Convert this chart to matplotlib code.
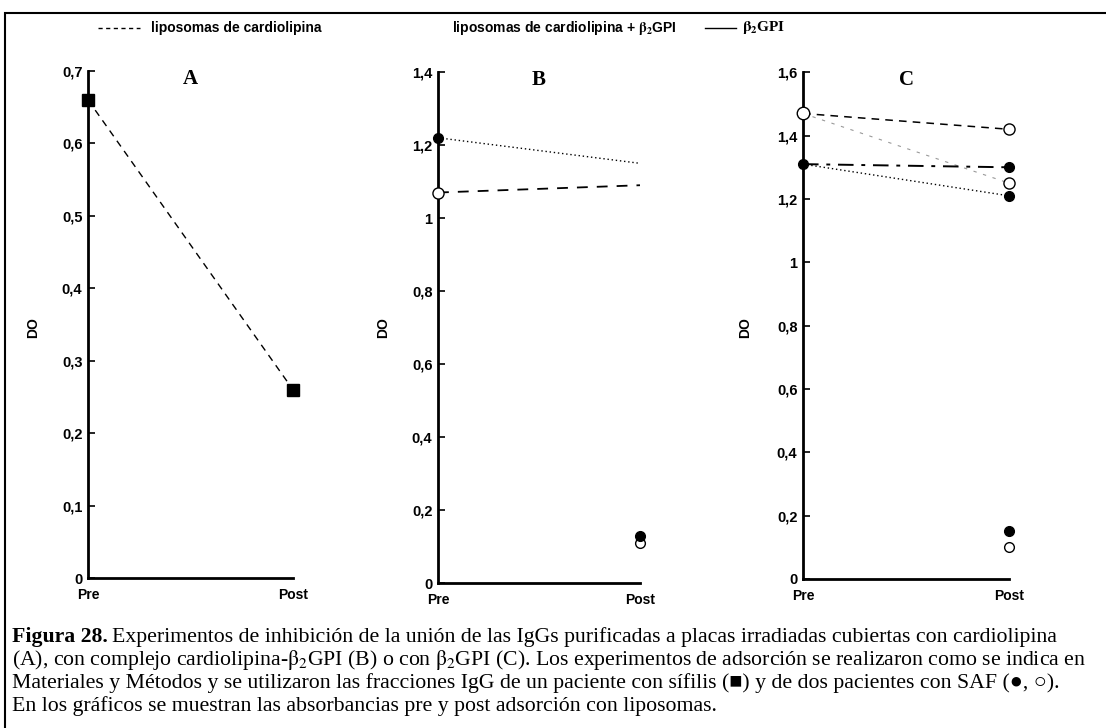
import matplotlib
matplotlib.use("Agg")
import matplotlib.pyplot as plt
from matplotlib.lines import Line2D
from matplotlib.patches import Rectangle

plt.rcParams['font.family'] = ['Liberation Sans', 'DejaVu Sans']
plt.rcParams['mathtext.fontset'] = 'stix'

# categorias del eje x
fases = ["Pre", "Post"]

# Panel A: paciente con sifilis (cuadrado), liposomas de cardiolipina
a_sifilis = [0.66, 0.26]

# Panel B
b_lleno_punteado = [1.22, 1.15]
b_abierto_rayado = [1.07, 1.09]
b_post_lleno = 0.13
b_post_abierto = 0.11

# Panel C
c_abierto_rayado = [1.47, 1.42]
c_abierto_punteado = [1.47, 1.25]
c_lleno_rayado = [1.31, 1.30]
c_lleno_punteado = [1.31, 1.21]
c_post_lleno = 0.15
c_post_abierto = 0.10

a_ticks = [0, 0.1, 0.2, 0.3, 0.4, 0.5, 0.6, 0.7]
a_labels = ["0", "0,1", "0,2", "0,3", "0,4", "0,5", "0,6", "0,7"]
b_ticks = [0, 0.2, 0.4, 0.6, 0.8, 1.0, 1.2, 1.4]
b_labels = ["0", "0,2", "0,4", "0,6", "0,8", "1", "1,2", "1,4"]
c_ticks = [0, 0.2, 0.4, 0.6, 0.8, 1.0, 1.2, 1.4, 1.6]
c_labels = ["0", "0,2", "0,4", "0,6", "0,8", "1", "1,2", "1,4", "1,6"]

fig = plt.figure(figsize=(11.06, 7.28), dpi=100)

# marco exterior
fig.patches.append(Rectangle((5 / 1106, -0.05), 1.2, 1 - 13 / 728 + 0.05,
                             transform=fig.transFigure, fill=False,
                             edgecolor='black', linewidth=1.5))


def preparar_eje(rect, ticks, labels, titulo, ylim, do_x):
    ax = fig.add_axes(rect)
    ax.set_xlim(0, 1)
    ax.set_ylim(*ylim)
    for lado in ['top', 'right']:
        ax.spines[lado].set_visible(False)
    ax.spines['left'].set_linewidth(2)
    ax.spines['bottom'].set_linewidth(2)
    ax.set_yticks(ticks)
    ax.set_yticklabels(labels, fontsize=10.5, fontweight='bold')
    ax.tick_params(axis='y', direction='in', length=5, width=1.2, pad=4)
    ax.set_xticks([0, 1])
    ax.set_xticklabels(fases, fontsize=10, fontweight='bold')
    ax.tick_params(axis='x', length=0, pad=7)
    ax.text(0.5, 0.985, titulo, transform=ax.transAxes, ha='center', va='center',
            fontsize=15, fontweight='bold', family='Liberation Serif')
    fig.text(do_x, 0.55, "DO", rotation=90, ha='center', va='center',
             fontsize=10, fontweight='bold')
    return ax


x = [0, 1]

# A
ax = preparar_eje([88 / 1106, 0.206, 205 / 1106, 0.6965], a_ticks, a_labels, "A",
                  (0, 0.7), 33 / 1106)
ax.plot(x, a_sifilis, color='black', linestyle=(0, (5, 4)), linewidth=1,
        marker='s', markersize=8, clip_on=False, zorder=5)

# B
ax = preparar_eje([438 / 1106, 0.199, 202 / 1106, 0.702], b_ticks, b_labels, "B",
                  (0, 1.4), 383 / 1106)
ax.plot(x, b_lleno_punteado, color='black', linestyle=(0, (1, 2)), linewidth=1)
ax.plot(x, b_abierto_rayado, color='black', linestyle=(0, (6, 5)), linewidth=1.3)
ax.plot([0], [b_lleno_punteado[0]], 'o', color='black', markersize=7, clip_on=False, zorder=5)
ax.plot([0], [b_abierto_rayado[0]], 'o', mfc='white', mec='black', markersize=8,
        clip_on=False, zorder=5)
ax.plot([1], [b_post_lleno], 'o', color='black', markersize=7, clip_on=False, zorder=5)
ax.plot([1], [b_post_abierto], 'o', mfc='white', mec='black', markersize=7,
        clip_on=False, zorder=4)

# C
ax = preparar_eje([803 / 1106, 0.2047, 206 / 1106, 0.696], c_ticks, c_labels, "C",
                  (0, 1.6), 745 / 1106)
ax.plot(x, c_abierto_rayado, color='black', linestyle=(0, (5, 4)), linewidth=1.1)
ax.plot(x, c_abierto_punteado, color='#999999', linestyle=(0, (3, 6)), linewidth=0.8)
ax.plot(x, c_lleno_rayado, color='black', linestyle=(0, (8, 4, 2, 4)), linewidth=1.4)
ax.plot(x, c_lleno_punteado, color='black', linestyle=(0, (1, 2)), linewidth=1)
ax.plot([0], [c_abierto_rayado[0]], 'o', mfc='white', mec='black', markersize=9,
        clip_on=False, zorder=5)
ax.plot([0], [c_lleno_rayado[0]], 'o', color='black', markersize=7, clip_on=False, zorder=5)
ax.plot([1, 1], [c_abierto_rayado[1], c_abierto_punteado[1]], 'o', mfc='white',
        mec='black', markersize=8, clip_on=False, zorder=5, linestyle='none')
ax.plot([1, 1], [c_lleno_rayado[1], c_lleno_punteado[1]], 'o', color='black',
        markersize=7, clip_on=False, zorder=5, linestyle='none')
ax.plot([1], [c_post_lleno], 'o', color='black', markersize=7, clip_on=False, zorder=5)
ax.plot([1], [c_post_abierto], 'o', mfc='white', mec='black', markersize=7,
        clip_on=False, zorder=5)

# leyenda superior
ley_y = 1 - 28 / 728
fig.add_artist(Line2D([98 / 1106, 140 / 1106], [ley_y, ley_y], color='black',
                      linestyle=(0, (3, 2.5)), linewidth=1))
fig.text(151 / 1106, ley_y, "liposomas de cardiolipina", ha='left', va='center',
         fontsize=10, fontweight='bold')
fig.text(452 / 1106, ley_y, r"liposomas de cardiolipina + $\mathbf{\beta_2}$GPI",
         ha='left', va='center', fontsize=10, fontweight='bold')
fig.add_artist(Line2D([705 / 1106, 736 / 1106], [ley_y, ley_y], color='black', linewidth=1))
fig.text(742 / 1106, ley_y, r"$\mathbf{\beta_2}$GPI", ha='left', va='center',
         fontsize=11, fontweight='bold', family='Liberation Serif')

# pie de figura
lineas = [
    "Experimentos de inhibición de la unión de las IgGs purificadas a placas irradiadas cubiertas con cardiolipina",
    r"(A), con complejo cardiolipina-$\mathrm{\beta_2}$GPI (B) o con $\mathrm{\beta_2}$GPI (C). Los experimentos de adsorción se realizaron como se indica en",
    "Materiales y Métodos y se utilizaron las fracciones IgG de un paciente con sífilis (\u25A0) y de dos pacientes con SAF (\u25CF, \u25CB).",
    "En los gráficos se muestran las absorbancias pre y post adsorción con liposomas.",
]
ys = [637, 660, 683, 706]
serif = ['Liberation Serif', 'DejaVu Serif']
fs = 15.7
fig.text(12 / 1106, 1 - ys[0] / 728, "Figura 28.", ha='left', va='center',
         fontsize=fs, fontweight='bold', family=serif)
fig.text(112 / 1106, 1 - ys[0] / 728, lineas[0], ha='left', va='center',
         fontsize=fs, family=serif)
for linea, yy in zip(lineas[1:], ys[1:]):
    fig.text(12 / 1106, 1 - yy / 728, linea, ha='left', va='center',
             fontsize=fs, family=serif)

fig.savefig("out.png", dpi=100)
